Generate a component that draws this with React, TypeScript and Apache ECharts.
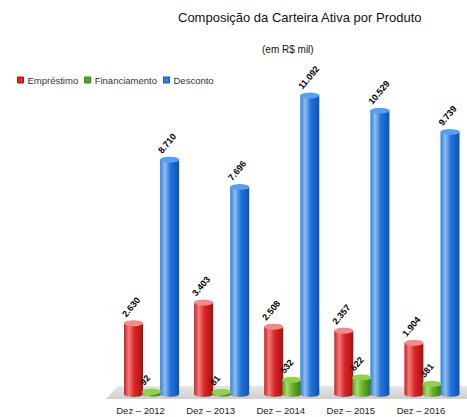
import React, { useEffect, useRef } from "react";
import * as echarts from "echarts";

const categories = ["Dez – 2012", "Dez – 2013", "Dez – 2014", "Dez – 2015", "Dez – 2016"];
const emprestimo = [2630, 3403, 2508, 2357, 1904];
const financiamento = [92, 81, 532, 622, 381];
const desconto = [8710, 7696, 11092, 10529, 9739];
const seriesNames = ["Empréstimo", "Financiamento", "Desconto"];

const fmt = (v: number) => String(v).replace(/\B(?=(\d{3})+(?!\d))/g, ".");

const grad = (stops: string[]) =>
  new echarts.graphic.LinearGradient(1, 0, 0, 0, [
    { offset: 0, color: stops[0] },
    { offset: 0.45, color: stops[1] },
    { offset: 0.75, color: stops[2] },
    { offset: 1, color: stops[3] },
  ]);

const palettes = [
  { body: ["#a31212", "#dc2424", "#f27d7d", "#c82020"], cap: "#ec8d8d", legend: "#d92b2b" },
  { body: ["#3d7a10", "#66b226", "#a9da72", "#5a9c1c"], cap: "#94cf54", legend: "#5aa51e" },
  { body: ["#0c52ba", "#2274da", "#8fbdf0", "#2f7fe0"], cap: "#5c9ee9", legend: "#2f7fe0" },
];

const BW = 19;
const GAP = "-5%";

export default function App() {
  const ref = useRef<HTMLDivElement>(null);
  useEffect(() => {
    if (!ref.current) return;
    const chart = echarts.init(ref.current, null, { renderer: "svg" });
    const dataSets = [emprestimo, financiamento, desconto];
    const bars: any[] = dataSets.map((d, i) => ({
      name: seriesNames[i],
      type: "bar",
      data: d,
      barWidth: BW,
      barGap: GAP,
      z: 2,
      itemStyle: { color: grad(palettes[i].body) },
    }));
    const bottoms: any[] = dataSets.map((d, i) => ({
      name: seriesNames[i] + "_bottom",
      type: "pictorialBar",
      xAxisIndex: 1,
      data: d,
      symbol: "circle",
      symbolSize: [BW, 6],
      symbolPosition: "start",
      symbolOffset: [0, "50%"],
      barWidth: BW,
      barGap: GAP,
      z: 3,
      itemStyle: { color: grad(palettes[i].body) },
      silent: true,
    }));
    const caps: any[] = dataSets.map((d, i) => ({
      name: seriesNames[i] + "_cap",
      type: "pictorialBar",
      xAxisIndex: 0,
      data: d,
      symbol: "circle",
      symbolSize: [BW, 6],
      symbolPosition: "end",
      symbolOffset: [0, "-50%"],
      barWidth: BW,
      barGap: GAP,
      z: 4,
      itemStyle: { color: palettes[i].cap, borderColor: palettes[i].body[0], borderWidth: 0.5 },
      silent: true,
      label: {
        show: true,
        position: "top",
        rotate: 50,
        align: "left",
        verticalAlign: "middle",
        distance: 16,
        offset: [-15, 0],
        formatter: (p: any) => fmt(p.value),
        fontFamily: "Liberation Sans",
        fontSize: 9,
        fontWeight: "bold",
        color: "#000",
      },
    }));
    chart.setOption({
      animation: false,
      backgroundColor: "#fff",
      textStyle: { fontFamily: "Liberation Sans" },
      title: [
        {
          text: "Composição da Carteira Ativa por Produto",
          left: 173,
          top: 6,
          textStyle: { fontSize: 13, fontWeight: "normal", color: "#111", fontFamily: "Liberation Sans" },
        },
        {
          text: "(em R$ mil)",
          left: 257,
          top: 39,
          textStyle: { fontSize: 10, fontWeight: "normal", color: "#111", fontFamily: "Liberation Sans" },
        },
      ],
      legend: {
        left: 12,
        top: 70,
        icon: "rect",
        itemWidth: 6,
        itemHeight: 6,
        itemGap: 6,
        textStyle: { fontSize: 9.5, color: "#333", fontFamily: "Liberation Sans", padding: [0, 0, 0, -1] },
        data: seriesNames.map((n, i) => ({
          name: n,
          itemStyle: { color: palettes[i].legend, borderColor: palettes[i].body[0], borderWidth: 1 },
        })),
      },
      grid: { left: 116.5, right: -4.5, top: 71, bottom: 23 },
      xAxis: [
        {
          type: "category",
          data: categories,
          axisLine: { show: false },
          axisTick: { show: false },
          axisLabel: {
            margin: 11,
            fontSize: 9.5,
            color: "#222",
            fontFamily: "Liberation Sans",
            padding: [0, 22, 0, 0],
          },
        },
        {
          type: "category",
          data: categories,
          show: false,
        },
      ],
      yAxis: {
        type: "value",
        min: 0,
        max: 12000,
        show: false,
        splitLine: { show: false },
      },
      graphic: [
        {
          type: "polygon",
          z: 0,
          silent: true,
          shape: { points: [[118, 386], [471, 386], [471, 399], [106, 399]] },
          style: {
            fill: new echarts.graphic.LinearGradient(0, 0, 0, 1, [
              { offset: 0, color: "#e6e6e6" },
              { offset: 1, color: "#cfcfcf" },
            ]),
          },
        },
      ],
      series: [...bottoms, ...bars, ...caps],
    });
    return () => chart.dispose();
  }, []);
  return <div ref={ref} style={{ position: "absolute", left: 0, top: 0, width: 467, height: 417 }} />;
}
